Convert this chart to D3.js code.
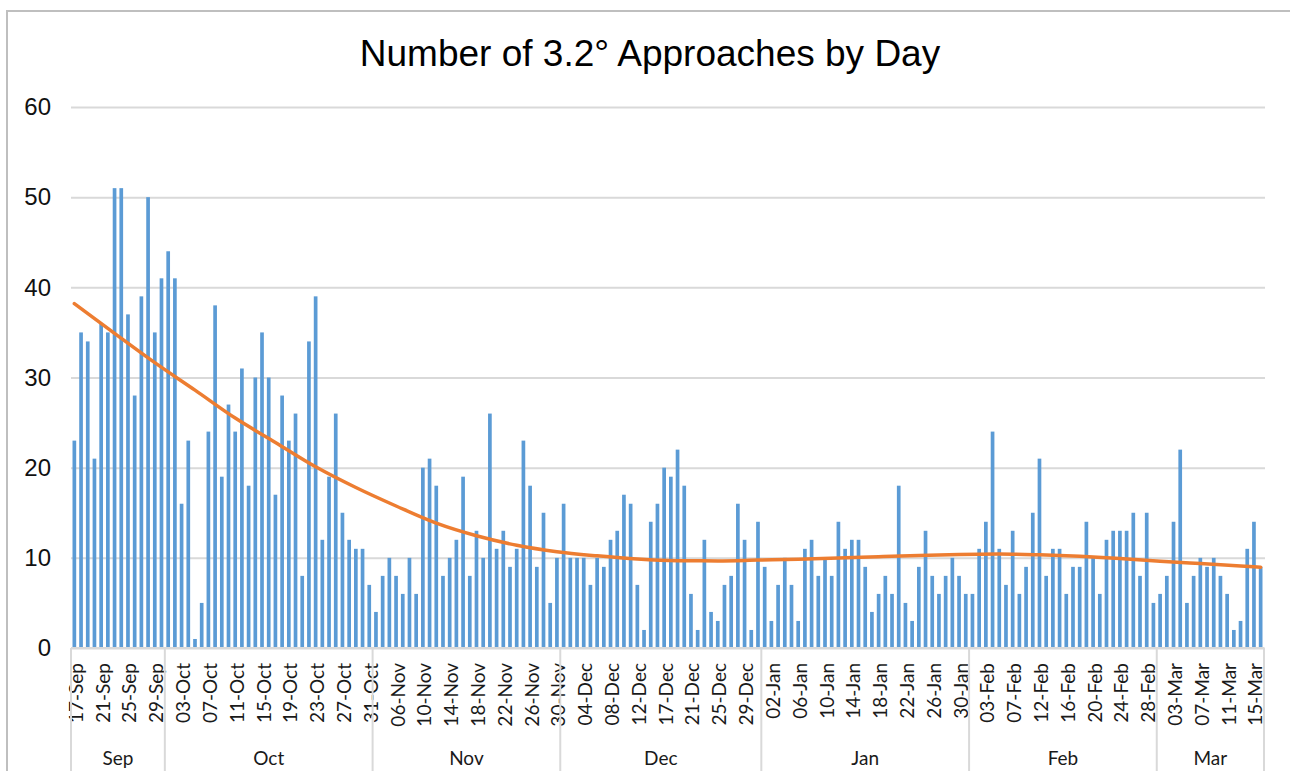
<!DOCTYPE html>
<html>
<head>
<meta charset="utf-8">
<script src="https://cdn.jsdelivr.net/npm/d3@7"></script>
<style>
  html, body { margin: 0; padding: 0; background: #fff; }
  svg { display: block; }
</style>
</head>
<body>
<svg id="chart" width="1290" height="771"></svg>
<script>
// ---------------- DATA ----------------
const title = "Number of 3.2\u00B0 Approaches by Day";
const monthNames = ["Sep", "Oct", "Nov", "Dec", "Jan", "Feb", "Mar"];

const daysSep = [17,18,19,20,21,22,23,24,25,26,27,28,29,30];
const daysOct = [1,2,3,4,5,6,7,8,9,10,11,12,13,14,15,16,17,18,19,20,21,22,23,24,25,26,27,28,29,30,31];
const daysNov = [1,4,5,6,7,8,9,10,11,12,13,14,15,16,17,18,19,20,21,22,23,24,25,26,27,28,29,30];
const daysDec = [1,2,3,4,5,6,7,8,9,10,11,12,13,15,16,17,18,19,20,21,22,23,24,25,26,27,28,29,30,31];
const daysJan = [1,2,3,4,5,6,7,8,9,10,11,12,13,14,15,16,17,18,19,20,21,22,23,24,25,26,27,28,29,30,31];
const daysFeb = [1,2,3,4,5,6,7,9,10,11,12,13,14,15,16,17,18,19,20,21,22,23,24,25,26,27,28,29];
const daysMar = [1,2,3,4,5,6,7,8,9,10,11,12,13,14,15,16];

const valuesSep = [23,35,34,21,36,35,51,51,37,28,39,50,35,41];
const valuesOct = [44,41,16,23,1,5,24,38,19,27,24,31,18,30,35,30,17,28,23,26,8,34,39,12,19,26,15,12,11,11,7];
const valuesNov = [4,8,10,8,6,10,6,20,21,18,8,10,12,19,8,13,10,26,11,13,9,11,23,18,9,15,5,10];
const valuesDec = [16,10,10,10,7,10,9,12,13,17,16,7,2,14,16,20,19,22,18,6,2,12,4,3,7,8,16,12,2,14];
const valuesJan = [9,3,7,10,7,3,11,12,8,10,8,14,11,12,12,9,4,6,8,6,18,5,3,9,13,8,6,8,10,8,6];
const valuesFeb = [6,11,14,24,11,7,13,6,9,15,21,8,11,11,6,9,9,14,10,6,12,13,13,13,15,8,15,5];
const valuesMar = [6,8,14,22,5,8,10,9,10,8,6,2,3,11,14,9];

const trendIndex = [0,6,12,18,24,30,36,42,48,54,60,66,72,78,84,90,96,102,108,114,120,126,132,138,144,150,156,162,168,174,177];
const trendValue = [38.2,34.9,31.65,28.6,25.5,22.8,20.1,17.8,15.75,13.85,12.45,11.4,10.68,10.22,9.86,9.68,9.66,9.75,9.85,9.97,10.13,10.27,10.38,10.42,10.33,10.17,9.93,9.63,9.36,9.1,8.96];

const yTicks = [0,10,20,30,40,50,60];

// ---------------- BUILD ----------------
const monthDays = [daysSep, daysOct, daysNov, daysDec, daysJan, daysFeb, daysMar];
const monthValues = [valuesSep, valuesOct, valuesNov, valuesDec, valuesJan, valuesFeb, valuesMar];
const rows = [];
monthNames.forEach((m, mi) => {
  monthDays[mi].forEach((d, di) => {
    rows.push({ label: String(d).padStart(2, "0") + "-" + m, month: m, value: monthValues[mi][di] });
  });
});
const N = rows.length;

const svg = d3.select("#chart");
const W = 1290, H = 771;
const plot = { left: 71, right: 1264, top: 107, bottom: 648 };

svg.append("rect").attr("x", 0).attr("y", 0).attr("width", W).attr("height", H).attr("fill", "#fff");
// chart frame
svg.append("rect").attr("x", 7).attr("y", 11).attr("width", W + 10).attr("height", H + 10)
  .attr("fill", "none").attr("stroke", "#bfbfbf").attr("stroke-width", 2);

const x = d3.scaleBand().domain(d3.range(N)).range([plot.left, plot.right])
  .paddingInner(0.45).paddingOuter(0.225);
const y = d3.scaleLinear().domain([0, 60]).range([plot.bottom, plot.top]);
const cx = i => x(i) + x.bandwidth() / 2;

// title
svg.append("text").attr("x", 650).attr("y", 66).attr("text-anchor", "middle")
  .attr("font-family", "Liberation Sans, Arial, sans-serif").attr("font-size", 37)
  .attr("fill", "#000").text(title);

// gridlines + y labels
const yAxis = d3.axisLeft(y).tickValues(yTicks).tickSize(-(plot.right + 1 - plot.left)).tickPadding(20);
const gy = svg.append("g").attr("transform", `translate(${plot.left},0)`).call(yAxis);
gy.select(".domain").remove();
gy.selectAll(".tick line").attr("stroke", "#d9d9d9").attr("stroke-width", 2);
gy.selectAll(".tick text").attr("font-family", "Liberation Sans, Arial, sans-serif")
  .attr("font-size", 24).attr("fill", "#111");

// bars
svg.append("g").selectAll("rect").data(rows).join("rect")
  .attr("x", (d, i) => x(i)).attr("width", x.bandwidth())
  .attr("y", d => y(d.value)).attr("height", d => y(0) - y(d.value))
  .attr("fill", "#5b9bd5");

// x axis baseline
svg.append("line").attr("x1", plot.left).attr("x2", plot.right).attr("y1", plot.bottom).attr("y2", plot.bottom)
  .attr("stroke", "#d9d9d9").attr("stroke-width", 2);

// date labels every 4 categories
const xAxis = d3.axisBottom(x).tickValues(d3.range(0, N, 4)).tickSize(0).tickFormat(i => rows[i].label);
const gx = svg.append("g").attr("transform", `translate(0,${plot.bottom})`).call(xAxis);
gx.select(".domain").remove();
gx.selectAll(".tick text")
  .attr("font-family", "Lato, 'Open Sans', sans-serif").attr("font-size", 19).attr("fill", "#1a1a1a")
  .attr("text-anchor", "end").attr("dominant-baseline", "central")
  .attr("transform", "rotate(-90)").attr("x", -15).attr("y", 1).attr("dy", null);

// month groups
const groups = [];
rows.forEach((r, i) => {
  if (!groups.length || groups[groups.length - 1].month !== r.month) groups.push({ month: r.month, start: i, end: i });
  else groups[groups.length - 1].end = i;
});
const step = x.step();
const edge = i => plot.left + i * step;
const bounds = [0].concat(groups.map(g => g.end + 1));
svg.append("g").selectAll("line").data(bounds).join("line")
  .attr("x1", b => edge(b)).attr("x2", b => edge(b))
  .attr("y1", plot.bottom).attr("y2", H)
  .attr("stroke", "#d9d9d9").attr("stroke-width", 2);
svg.append("g").selectAll("text").data(groups).join("text")
  .attr("x", g => (edge(g.start) + edge(g.end + 1)) / 2).attr("y", 757)
  .attr("text-anchor", "middle").attr("dominant-baseline", "central")
  .attr("font-family", "Lato, 'Open Sans', sans-serif").attr("font-size", 19).attr("fill", "#1a1a1a")
  .text(g => g.month);

// trendline
const line = d3.line().x(d => cx(d[0])).y(d => y(d[1])).curve(d3.curveMonotoneX);
svg.append("path").datum(trendIndex.map((t, k) => [t, trendValue[k]]))
  .attr("d", line).attr("fill", "none").attr("stroke", "#ed7d31")
  .attr("stroke-width", 3.5).attr("stroke-linecap", "round");
</script>
</body>
</html>
